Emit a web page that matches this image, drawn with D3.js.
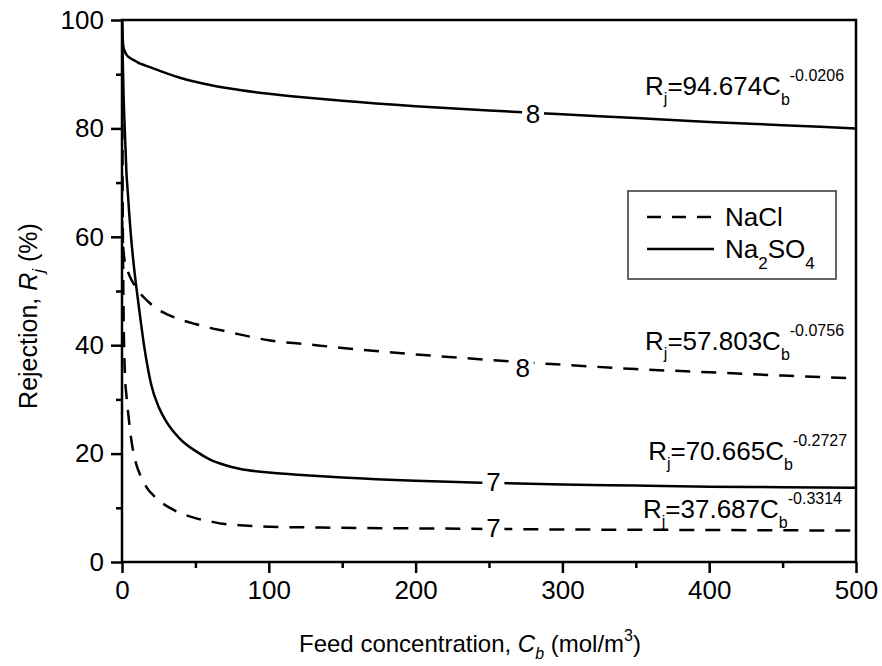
<!DOCTYPE html>
<html>
<head>
<meta charset="utf-8">
<script src="https://cdn.jsdelivr.net/npm/d3@7"></script>
<style>
  body { margin: 0; background: #fff; }
  svg text { font-family: "Liberation Sans", Arial, sans-serif; fill: #000; }
</style>
</head>
<body>
<svg id="chart" width="882" height="666"></svg>
<script>
// feed concentration (mol/m3) where the curves were read
const conc = [0, 0.5, 1, 2, 3, 4, 5, 6, 8, 10, 12, 15, 18, 20, 25, 30, 40, 50, 60, 70, 80, 100, 125, 150, 200, 250, 300, 350, 400, 450, 500];

// rejection (%)
const na2so4At8 = [100, 96.5, 95.0, 94.2, 93.6, 93.3, 93.1, 92.9, 92.6, 92.3, 92.0, 91.7, 91.4, 91.2, 90.7, 90.2, 89.3, 88.6, 88.0, 87.5, 87.1, 86.4, 85.7, 85.1, 84.1, 83.3, 82.6, 81.9, 81.2, 80.6, 80.0];
const naclAt8 = [63, 59, 57.5, 55.2, 54.3, 53.6, 52.9, 52.3, 51.3, 50.5, 49.7, 48.8, 48.0, 47.5, 46.5, 45.8, 44.7, 43.9, 43.2, 42.6, 42.0, 40.9, 40.2, 39.5, 38.3, 37.3, 36.4, 35.6, 35.0, 34.4, 33.9];
const na2so4At7 = [100, 93, 87, 79, 72, 68, 64, 60.5, 54.8, 50.2, 46.0, 40.0, 35.2, 32.6, 28.6, 26.0, 22.6, 20.5, 18.9, 17.9, 17.2, 16.5, 16.0, 15.6, 15.0, 14.6, 14.3, 14.1, 13.9, 13.8, 13.7];
const naclAt7 = [100, 65, 48, 34.5, 30.8, 28.0, 25.5, 23.2, 19.9, 17.8, 16.3, 14.6, 13.3, 12.7, 11.3, 10.4, 9.0, 8.1, 7.5, 7.0, 6.8, 6.5, 6.4, 6.3, 6.2, 6.1, 6.0, 5.95, 5.9, 5.85, 5.8];

const xTicks = [0, 100, 200, 300, 400, 500];
const yTicks = [0, 20, 40, 60, 80, 100];

// power-law fits printed on the chart
const fitCoef = ["94.674", "57.803", "70.665", "37.687"];
const fitExp = ["-0.0206", "-0.0756", "-0.2727", "-0.3314"];

const svg = d3.select("#chart");
const plotL = 122, plotR = 856, plotT = 20, plotB = 562;

const x = d3.scaleLinear().domain([0, 500]).range([plotL, plotR]);
const y = d3.scaleLinear().domain([0, 100]).range([plotB, plotT]);

svg.append("defs").append("clipPath").attr("id", "plot")
  .append("rect").attr("x", plotL).attr("y", plotT)
  .attr("width", plotR - plotL).attr("height", plotB - plotT);

// frame
svg.append("rect")
  .attr("x", plotL).attr("y", plotT)
  .attr("width", plotR - plotL).attr("height", plotB - plotT)
  .attr("fill", "none").attr("stroke", "#000").attr("stroke-width", 2.5);

// axes
const xAxis = svg.append("g").attr("transform", `translate(0,${plotB})`)
  .call(d3.axisBottom(x).tickValues(xTicks).tickSize(11).tickPadding(8).tickFormat(d3.format("d")));
const xMinor = svg.append("g").attr("transform", `translate(0,${plotB})`)
  .call(d3.axisBottom(x).tickValues(d3.range(50, 500, 100)).tickSize(6).tickFormat(""));
const yAxis = svg.append("g").attr("transform", `translate(${plotL},0)`)
  .call(d3.axisLeft(y).tickValues(yTicks).tickSize(11).tickPadding(7).tickFormat(d3.format("d")));
const yMinor = svg.append("g").attr("transform", `translate(${plotL},0)`)
  .call(d3.axisLeft(y).tickValues(d3.range(10, 100, 20)).tickSize(6).tickFormat(""));

[xAxis, xMinor, yAxis, yMinor].forEach(g => {
  g.select(".domain").remove();
  g.selectAll("line").attr("stroke", "#000").attr("stroke-width", 2.5);
  g.selectAll("text").attr("font-size", 26).attr("font-family", "Liberation Sans, Arial, sans-serif").attr("fill", "#000");
});

// curves
const line = d3.line()
  .x((d, i) => x(conc[i]))
  .y(d => y(d))
  .curve(d3.curveMonotoneX);

const series = [
  { values: na2so4At8, dash: null },
  { values: naclAt8, dash: "15,11" },
  { values: na2so4At7, dash: null },
  { values: naclAt7, dash: "15,11" }
];

const plot = svg.append("g").attr("clip-path", "url(#plot)");
plot.selectAll("path.curve").data(series).enter()
  .append("path")
  .attr("class", "curve")
  .attr("d", d => line(d.values))
  .attr("fill", "none")
  .attr("stroke", "#000")
  .attr("stroke-width", 2.5)
  .attr("stroke-dasharray", d => d.dash);

// inline curve labels, line broken behind them
const inline = [
  { t: "8", c: 280, r: 82.8 },
  { t: "8", c: 273, r: 35.9 },
  { t: "7", c: 253, r: 14.8 },
  { t: "7", c: 253, r: 6.3 }
];
inline.forEach(d => {
  svg.append("rect")
    .attr("x", x(d.c) - 11).attr("y", y(d.r) - 10)
    .attr("width", 22).attr("height", 20).attr("fill", "#fff");
  svg.append("text")
    .attr("x", x(d.c)).attr("y", y(d.r)).attr("dy", "0.36em")
    .attr("text-anchor", "middle").attr("font-size", 26)
    .text(d.t);
});

// fit equations
const fitPos = [
  { c: 356.3, r: 86.2 },
  { c: 356.3, r: 39.1 },
  { c: 358.4, r: 18.8 },
  { c: 354.9, r: 8.1 }
];
fitCoef.forEach((coef, i) => {
  const t = svg.append("text")
    .attr("x", x(fitPos[i].c)).attr("y", y(fitPos[i].r))
    .attr("font-size", 26);
  t.append("tspan").text("R");
  t.append("tspan").attr("font-size", 16).attr("dy", 9).text("j");
  t.append("tspan").attr("dy", -9).text("=" + coef + "C");
  t.append("tspan").attr("font-size", 16).attr("dy", 10).text("b");
  t.append("tspan").attr("font-size", 16).attr("dy", -24).text(fitExp[i]);
});

// legend
const lg = svg.append("g");
lg.append("rect")
  .attr("x", 628).attr("y", 191).attr("width", 208).attr("height", 88)
  .attr("fill", "#fff").attr("stroke", "#333").attr("stroke-width", 1.5);
const legendRows = [
  { dash: "14,11", y: 217 },
  { dash: null, y: 249 }
];
legendRows.forEach(r => {
  lg.append("line")
    .attr("x1", 647).attr("x2", 714).attr("y1", r.y).attr("y2", r.y)
    .attr("stroke", "#000").attr("stroke-width", 2.5)
    .attr("stroke-dasharray", r.dash);
});
lg.append("text").attr("x", 725).attr("y", 226).attr("font-size", 26).text("NaCl");
const na2 = lg.append("text").attr("x", 725).attr("y", 258).attr("font-size", 26);
na2.append("tspan").text("Na");
na2.append("tspan").attr("font-size", 17).attr("dy", 11).text("2");
na2.append("tspan").attr("dy", -11).text("SO");
na2.append("tspan").attr("font-size", 17).attr("dy", 11).text("4");

// axis titles
const xt = svg.append("text")
  .attr("x", 470).attr("y", 652).attr("text-anchor", "middle").attr("font-size", 24);
xt.append("tspan").text("Feed concentration, ");
xt.append("tspan").attr("font-style", "italic").text("C");
xt.append("tspan").attr("font-style", "italic").attr("font-size", 16).attr("dy", 7).text("b");
xt.append("tspan").attr("dy", -7).text(" (mol/m");
xt.append("tspan").attr("font-size", 16).attr("dy", -11).text("3");
xt.append("tspan").attr("dy", 11).text(")");

const yt = svg.append("text")
  .attr("transform", "translate(37,316) rotate(-90)")
  .attr("text-anchor", "middle").attr("font-size", 25);
yt.append("tspan").text("Rejection, ");
yt.append("tspan").attr("font-style", "italic").text("R");
yt.append("tspan").attr("font-style", "italic").attr("font-size", 17).attr("dy", 7).text("j");
yt.append("tspan").attr("dy", -7).text(" (%)");
</script>
</body>
</html>
